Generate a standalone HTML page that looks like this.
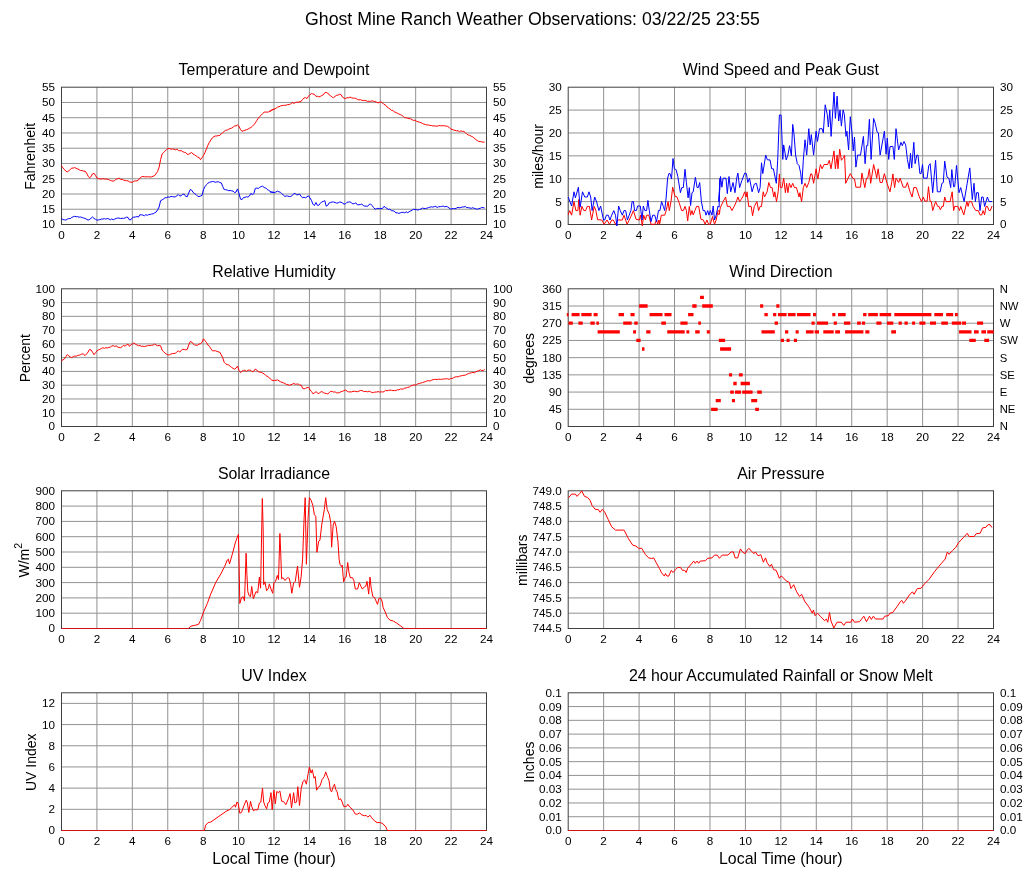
<!DOCTYPE html>
<html lang="en"><head><meta charset="utf-8"><title>Ghost Mine Ranch Weather Observations</title>
<style>html,body{margin:0;padding:0;background:#fff}svg{display:block}</style></head>
<body>
<svg width="1027" height="878" viewBox="0 0 1027 878" font-family='"Liberation Sans", Arial, Helvetica, sans-serif' fill="#000">
<rect width="1027" height="878" fill="#fff"/>
<text x="532.5" y="24.5" font-size="17.7" text-anchor="middle">Ghost Mine Ranch Weather Observations: 03/22/25 23:55</text>
<path d="M96.92 87.2V224.5M132.33 87.2V224.5M167.75 87.2V224.5M203.17 87.2V224.5M238.58 87.2V224.5M274.00 87.2V224.5M309.42 87.2V224.5M344.83 87.2V224.5M380.25 87.2V224.5M415.67 87.2V224.5M451.08 87.2V224.5M61.5 209.24H486.5M61.5 193.99H486.5M61.5 178.73H486.5M61.5 163.48H486.5M61.5 148.22H486.5M61.5 132.97H486.5M61.5 117.71H486.5M61.5 102.46H486.5" stroke="#929292" stroke-width="1" fill="none"/>
<path d="M603.64 87.2V224.5M639.08 87.2V224.5M674.53 87.2V224.5M709.97 87.2V224.5M745.41 87.2V224.5M780.85 87.2V224.5M816.29 87.2V224.5M851.73 87.2V224.5M887.17 87.2V224.5M922.62 87.2V224.5M958.06 87.2V224.5M568.2 201.62H993.5M568.2 178.73H993.5M568.2 155.85H993.5M568.2 132.97H993.5M568.2 110.08H993.5" stroke="#929292" stroke-width="1" fill="none"/>
<path d="M96.92 288.8V426.5M132.33 288.8V426.5M167.75 288.8V426.5M203.17 288.8V426.5M238.58 288.8V426.5M274.00 288.8V426.5M309.42 288.8V426.5M344.83 288.8V426.5M380.25 288.8V426.5M415.67 288.8V426.5M451.08 288.8V426.5M61.5 412.73H486.5M61.5 398.96H486.5M61.5 385.19H486.5M61.5 371.42H486.5M61.5 357.65H486.5M61.5 343.88H486.5M61.5 330.11H486.5M61.5 316.34H486.5M61.5 302.57H486.5" stroke="#929292" stroke-width="1" fill="none"/>
<path d="M603.64 288.8V426.5M639.08 288.8V426.5M674.53 288.8V426.5M709.97 288.8V426.5M745.41 288.8V426.5M780.85 288.8V426.5M816.29 288.8V426.5M851.73 288.8V426.5M887.17 288.8V426.5M922.62 288.8V426.5M958.06 288.8V426.5M568.2 409.29H993.5M568.2 392.07H993.5M568.2 374.86H993.5M568.2 357.65H993.5M568.2 340.44H993.5M568.2 323.23H993.5M568.2 306.01H993.5" stroke="#929292" stroke-width="1" fill="none"/>
<path d="M96.92 490.8V628.5M132.33 490.8V628.5M167.75 490.8V628.5M203.17 490.8V628.5M238.58 490.8V628.5M274.00 490.8V628.5M309.42 490.8V628.5M344.83 490.8V628.5M380.25 490.8V628.5M415.67 490.8V628.5M451.08 490.8V628.5M61.5 613.20H486.5M61.5 597.90H486.5M61.5 582.60H486.5M61.5 567.30H486.5M61.5 552.00H486.5M61.5 536.70H486.5M61.5 521.40H486.5M61.5 506.10H486.5" stroke="#929292" stroke-width="1" fill="none"/>
<path d="M603.64 490.8V628.5M639.08 490.8V628.5M674.53 490.8V628.5M709.97 490.8V628.5M745.41 490.8V628.5M780.85 490.8V628.5M816.29 490.8V628.5M851.73 490.8V628.5M887.17 490.8V628.5M922.62 490.8V628.5M958.06 490.8V628.5M568.2 613.20H993.5M568.2 597.90H993.5M568.2 582.60H993.5M568.2 567.30H993.5M568.2 552.00H993.5M568.2 536.70H993.5M568.2 521.40H993.5M568.2 506.10H993.5" stroke="#929292" stroke-width="1" fill="none"/>
<path d="M96.92 692.8V830.5M132.33 692.8V830.5M167.75 692.8V830.5M203.17 692.8V830.5M238.58 692.8V830.5M274.00 692.8V830.5M309.42 692.8V830.5M344.83 692.8V830.5M380.25 692.8V830.5M415.67 692.8V830.5M451.08 692.8V830.5M61.5 809.32H486.5M61.5 788.13H486.5M61.5 766.95H486.5M61.5 745.76H486.5M61.5 724.58H486.5M61.5 703.39H486.5" stroke="#929292" stroke-width="1" fill="none"/>
<path d="M603.64 692.8V830.5M639.08 692.8V830.5M674.53 692.8V830.5M709.97 692.8V830.5M745.41 692.8V830.5M780.85 692.8V830.5M816.29 692.8V830.5M851.73 692.8V830.5M887.17 692.8V830.5M922.62 692.8V830.5M958.06 692.8V830.5M568.2 816.73H993.5M568.2 802.96H993.5M568.2 789.19H993.5M568.2 775.42H993.5M568.2 761.65H993.5M568.2 747.88H993.5M568.2 734.11H993.5M568.2 720.34H993.5M568.2 706.57H993.5" stroke="#929292" stroke-width="1" fill="none"/>
<rect x="61.5" y="87.2" width="425.0" height="137.3" fill="none" stroke="#404040" stroke-width="1"/>
<text x="55.1" y="228.4" font-size="11.7" text-anchor="end">10</text>
<text x="493.0" y="228.4" font-size="11.7" text-anchor="start">10</text>
<text x="55.1" y="213.1" font-size="11.7" text-anchor="end">15</text>
<text x="493.0" y="213.1" font-size="11.7" text-anchor="start">15</text>
<text x="55.1" y="197.9" font-size="11.7" text-anchor="end">20</text>
<text x="493.0" y="197.9" font-size="11.7" text-anchor="start">20</text>
<text x="55.1" y="182.6" font-size="11.7" text-anchor="end">25</text>
<text x="493.0" y="182.6" font-size="11.7" text-anchor="start">25</text>
<text x="55.1" y="167.4" font-size="11.7" text-anchor="end">30</text>
<text x="493.0" y="167.4" font-size="11.7" text-anchor="start">30</text>
<text x="55.1" y="152.1" font-size="11.7" text-anchor="end">35</text>
<text x="493.0" y="152.1" font-size="11.7" text-anchor="start">35</text>
<text x="55.1" y="136.9" font-size="11.7" text-anchor="end">40</text>
<text x="493.0" y="136.9" font-size="11.7" text-anchor="start">40</text>
<text x="55.1" y="121.6" font-size="11.7" text-anchor="end">45</text>
<text x="493.0" y="121.6" font-size="11.7" text-anchor="start">45</text>
<text x="55.1" y="106.4" font-size="11.7" text-anchor="end">50</text>
<text x="493.0" y="106.4" font-size="11.7" text-anchor="start">50</text>
<text x="55.1" y="91.1" font-size="11.7" text-anchor="end">55</text>
<text x="493.0" y="91.1" font-size="11.7" text-anchor="start">55</text>
<text x="61.5" y="239.4" font-size="11.7" text-anchor="middle">0</text>
<text x="96.9" y="239.4" font-size="11.7" text-anchor="middle">2</text>
<text x="132.3" y="239.4" font-size="11.7" text-anchor="middle">4</text>
<text x="167.8" y="239.4" font-size="11.7" text-anchor="middle">6</text>
<text x="203.2" y="239.4" font-size="11.7" text-anchor="middle">8</text>
<text x="238.6" y="239.4" font-size="11.7" text-anchor="middle">10</text>
<text x="274.0" y="239.4" font-size="11.7" text-anchor="middle">12</text>
<text x="309.4" y="239.4" font-size="11.7" text-anchor="middle">14</text>
<text x="344.8" y="239.4" font-size="11.7" text-anchor="middle">16</text>
<text x="380.2" y="239.4" font-size="11.7" text-anchor="middle">18</text>
<text x="415.7" y="239.4" font-size="11.7" text-anchor="middle">20</text>
<text x="451.1" y="239.4" font-size="11.7" text-anchor="middle">22</text>
<text x="486.5" y="239.4" font-size="11.7" text-anchor="middle">24</text>
<text x="274.0" y="74.8" font-size="15.9" text-anchor="middle">Temperature and Dewpoint</text>
<rect x="568.2" y="87.2" width="425.29999999999995" height="137.3" fill="none" stroke="#404040" stroke-width="1"/>
<text x="561.8000000000001" y="228.4" font-size="11.7" text-anchor="end">0</text>
<text x="1000.0" y="228.4" font-size="11.7" text-anchor="start">0</text>
<text x="561.8000000000001" y="205.5" font-size="11.7" text-anchor="end">5</text>
<text x="1000.0" y="205.5" font-size="11.7" text-anchor="start">5</text>
<text x="561.8000000000001" y="182.6" font-size="11.7" text-anchor="end">10</text>
<text x="1000.0" y="182.6" font-size="11.7" text-anchor="start">10</text>
<text x="561.8000000000001" y="159.8" font-size="11.7" text-anchor="end">15</text>
<text x="1000.0" y="159.8" font-size="11.7" text-anchor="start">15</text>
<text x="561.8000000000001" y="136.9" font-size="11.7" text-anchor="end">20</text>
<text x="1000.0" y="136.9" font-size="11.7" text-anchor="start">20</text>
<text x="561.8000000000001" y="114.0" font-size="11.7" text-anchor="end">25</text>
<text x="1000.0" y="114.0" font-size="11.7" text-anchor="start">25</text>
<text x="561.8000000000001" y="91.1" font-size="11.7" text-anchor="end">30</text>
<text x="1000.0" y="91.1" font-size="11.7" text-anchor="start">30</text>
<text x="568.2" y="239.4" font-size="11.7" text-anchor="middle">0</text>
<text x="603.6" y="239.4" font-size="11.7" text-anchor="middle">2</text>
<text x="639.1" y="239.4" font-size="11.7" text-anchor="middle">4</text>
<text x="674.5" y="239.4" font-size="11.7" text-anchor="middle">6</text>
<text x="710.0" y="239.4" font-size="11.7" text-anchor="middle">8</text>
<text x="745.4" y="239.4" font-size="11.7" text-anchor="middle">10</text>
<text x="780.9" y="239.4" font-size="11.7" text-anchor="middle">12</text>
<text x="816.3" y="239.4" font-size="11.7" text-anchor="middle">14</text>
<text x="851.7" y="239.4" font-size="11.7" text-anchor="middle">16</text>
<text x="887.2" y="239.4" font-size="11.7" text-anchor="middle">18</text>
<text x="922.6" y="239.4" font-size="11.7" text-anchor="middle">20</text>
<text x="958.1" y="239.4" font-size="11.7" text-anchor="middle">22</text>
<text x="993.5" y="239.4" font-size="11.7" text-anchor="middle">24</text>
<text x="780.85" y="74.8" font-size="15.9" text-anchor="middle">Wind Speed and Peak Gust</text>
<rect x="61.5" y="288.8" width="425.0" height="137.7" fill="none" stroke="#404040" stroke-width="1"/>
<text x="55.1" y="430.4" font-size="11.7" text-anchor="end">0</text>
<text x="493.0" y="430.4" font-size="11.7" text-anchor="start">0</text>
<text x="55.1" y="416.6" font-size="11.7" text-anchor="end">10</text>
<text x="493.0" y="416.6" font-size="11.7" text-anchor="start">10</text>
<text x="55.1" y="402.9" font-size="11.7" text-anchor="end">20</text>
<text x="493.0" y="402.9" font-size="11.7" text-anchor="start">20</text>
<text x="55.1" y="389.1" font-size="11.7" text-anchor="end">30</text>
<text x="493.0" y="389.1" font-size="11.7" text-anchor="start">30</text>
<text x="55.1" y="375.3" font-size="11.7" text-anchor="end">40</text>
<text x="493.0" y="375.3" font-size="11.7" text-anchor="start">40</text>
<text x="55.1" y="361.5" font-size="11.7" text-anchor="end">50</text>
<text x="493.0" y="361.5" font-size="11.7" text-anchor="start">50</text>
<text x="55.1" y="347.8" font-size="11.7" text-anchor="end">60</text>
<text x="493.0" y="347.8" font-size="11.7" text-anchor="start">60</text>
<text x="55.1" y="334.0" font-size="11.7" text-anchor="end">70</text>
<text x="493.0" y="334.0" font-size="11.7" text-anchor="start">70</text>
<text x="55.1" y="320.2" font-size="11.7" text-anchor="end">80</text>
<text x="493.0" y="320.2" font-size="11.7" text-anchor="start">80</text>
<text x="55.1" y="306.5" font-size="11.7" text-anchor="end">90</text>
<text x="493.0" y="306.5" font-size="11.7" text-anchor="start">90</text>
<text x="55.1" y="292.7" font-size="11.7" text-anchor="end">100</text>
<text x="493.0" y="292.7" font-size="11.7" text-anchor="start">100</text>
<text x="61.5" y="441.4" font-size="11.7" text-anchor="middle">0</text>
<text x="96.9" y="441.4" font-size="11.7" text-anchor="middle">2</text>
<text x="132.3" y="441.4" font-size="11.7" text-anchor="middle">4</text>
<text x="167.8" y="441.4" font-size="11.7" text-anchor="middle">6</text>
<text x="203.2" y="441.4" font-size="11.7" text-anchor="middle">8</text>
<text x="238.6" y="441.4" font-size="11.7" text-anchor="middle">10</text>
<text x="274.0" y="441.4" font-size="11.7" text-anchor="middle">12</text>
<text x="309.4" y="441.4" font-size="11.7" text-anchor="middle">14</text>
<text x="344.8" y="441.4" font-size="11.7" text-anchor="middle">16</text>
<text x="380.2" y="441.4" font-size="11.7" text-anchor="middle">18</text>
<text x="415.7" y="441.4" font-size="11.7" text-anchor="middle">20</text>
<text x="451.1" y="441.4" font-size="11.7" text-anchor="middle">22</text>
<text x="486.5" y="441.4" font-size="11.7" text-anchor="middle">24</text>
<text x="274.0" y="277.2" font-size="15.9" text-anchor="middle">Relative Humidity</text>
<rect x="568.2" y="288.8" width="425.29999999999995" height="137.7" fill="none" stroke="#404040" stroke-width="1"/>
<text x="561.8000000000001" y="430.4" font-size="11.7" text-anchor="end">0</text>
<text x="561.8000000000001" y="413.2" font-size="11.7" text-anchor="end">45</text>
<text x="561.8000000000001" y="396.0" font-size="11.7" text-anchor="end">90</text>
<text x="561.8000000000001" y="378.8" font-size="11.7" text-anchor="end">135</text>
<text x="561.8000000000001" y="361.5" font-size="11.7" text-anchor="end">180</text>
<text x="561.8000000000001" y="344.3" font-size="11.7" text-anchor="end">225</text>
<text x="561.8000000000001" y="327.1" font-size="11.7" text-anchor="end">270</text>
<text x="561.8000000000001" y="309.9" font-size="11.7" text-anchor="end">315</text>
<text x="561.8000000000001" y="292.7" font-size="11.7" text-anchor="end">360</text>
<text x="999.7" y="430.4" font-size="11.3" text-anchor="start">N</text>
<text x="999.7" y="413.2" font-size="11.3" text-anchor="start">NE</text>
<text x="999.7" y="396.0" font-size="11.3" text-anchor="start">E</text>
<text x="999.7" y="378.8" font-size="11.3" text-anchor="start">SE</text>
<text x="999.7" y="361.5" font-size="11.3" text-anchor="start">S</text>
<text x="999.7" y="344.3" font-size="11.3" text-anchor="start">SW</text>
<text x="999.7" y="327.1" font-size="11.3" text-anchor="start">W</text>
<text x="999.7" y="309.9" font-size="11.3" text-anchor="start">NW</text>
<text x="999.7" y="292.7" font-size="11.3" text-anchor="start">N</text>
<text x="568.2" y="441.4" font-size="11.7" text-anchor="middle">0</text>
<text x="603.6" y="441.4" font-size="11.7" text-anchor="middle">2</text>
<text x="639.1" y="441.4" font-size="11.7" text-anchor="middle">4</text>
<text x="674.5" y="441.4" font-size="11.7" text-anchor="middle">6</text>
<text x="710.0" y="441.4" font-size="11.7" text-anchor="middle">8</text>
<text x="745.4" y="441.4" font-size="11.7" text-anchor="middle">10</text>
<text x="780.9" y="441.4" font-size="11.7" text-anchor="middle">12</text>
<text x="816.3" y="441.4" font-size="11.7" text-anchor="middle">14</text>
<text x="851.7" y="441.4" font-size="11.7" text-anchor="middle">16</text>
<text x="887.2" y="441.4" font-size="11.7" text-anchor="middle">18</text>
<text x="922.6" y="441.4" font-size="11.7" text-anchor="middle">20</text>
<text x="958.1" y="441.4" font-size="11.7" text-anchor="middle">22</text>
<text x="993.5" y="441.4" font-size="11.7" text-anchor="middle">24</text>
<text x="780.85" y="277.2" font-size="15.9" text-anchor="middle">Wind Direction</text>
<rect x="61.5" y="490.8" width="425.0" height="137.7" fill="none" stroke="#404040" stroke-width="1"/>
<text x="55.1" y="632.4" font-size="11.7" text-anchor="end">0</text>
<text x="55.1" y="617.1" font-size="11.7" text-anchor="end">100</text>
<text x="55.1" y="601.8" font-size="11.7" text-anchor="end">200</text>
<text x="55.1" y="586.5" font-size="11.7" text-anchor="end">300</text>
<text x="55.1" y="571.2" font-size="11.7" text-anchor="end">400</text>
<text x="55.1" y="555.9" font-size="11.7" text-anchor="end">500</text>
<text x="55.1" y="540.6" font-size="11.7" text-anchor="end">600</text>
<text x="55.1" y="525.3" font-size="11.7" text-anchor="end">700</text>
<text x="55.1" y="510.0" font-size="11.7" text-anchor="end">800</text>
<text x="55.1" y="494.7" font-size="11.7" text-anchor="end">900</text>
<text x="61.5" y="643.4" font-size="11.7" text-anchor="middle">0</text>
<text x="96.9" y="643.4" font-size="11.7" text-anchor="middle">2</text>
<text x="132.3" y="643.4" font-size="11.7" text-anchor="middle">4</text>
<text x="167.8" y="643.4" font-size="11.7" text-anchor="middle">6</text>
<text x="203.2" y="643.4" font-size="11.7" text-anchor="middle">8</text>
<text x="238.6" y="643.4" font-size="11.7" text-anchor="middle">10</text>
<text x="274.0" y="643.4" font-size="11.7" text-anchor="middle">12</text>
<text x="309.4" y="643.4" font-size="11.7" text-anchor="middle">14</text>
<text x="344.8" y="643.4" font-size="11.7" text-anchor="middle">16</text>
<text x="380.2" y="643.4" font-size="11.7" text-anchor="middle">18</text>
<text x="415.7" y="643.4" font-size="11.7" text-anchor="middle">20</text>
<text x="451.1" y="643.4" font-size="11.7" text-anchor="middle">22</text>
<text x="486.5" y="643.4" font-size="11.7" text-anchor="middle">24</text>
<text x="274.0" y="479.2" font-size="15.9" text-anchor="middle">Solar Irradiance</text>
<rect x="568.2" y="490.8" width="425.29999999999995" height="137.7" fill="none" stroke="#404040" stroke-width="1"/>
<text x="561.8000000000001" y="632.4" font-size="11.7" text-anchor="end">744.5</text>
<text x="561.8000000000001" y="617.1" font-size="11.7" text-anchor="end">745.0</text>
<text x="561.8000000000001" y="601.8" font-size="11.7" text-anchor="end">745.5</text>
<text x="561.8000000000001" y="586.5" font-size="11.7" text-anchor="end">746.0</text>
<text x="561.8000000000001" y="571.2" font-size="11.7" text-anchor="end">746.5</text>
<text x="561.8000000000001" y="555.9" font-size="11.7" text-anchor="end">747.0</text>
<text x="561.8000000000001" y="540.6" font-size="11.7" text-anchor="end">747.5</text>
<text x="561.8000000000001" y="525.3" font-size="11.7" text-anchor="end">748.0</text>
<text x="561.8000000000001" y="510.0" font-size="11.7" text-anchor="end">748.5</text>
<text x="561.8000000000001" y="494.7" font-size="11.7" text-anchor="end">749.0</text>
<text x="568.2" y="643.4" font-size="11.7" text-anchor="middle">0</text>
<text x="603.6" y="643.4" font-size="11.7" text-anchor="middle">2</text>
<text x="639.1" y="643.4" font-size="11.7" text-anchor="middle">4</text>
<text x="674.5" y="643.4" font-size="11.7" text-anchor="middle">6</text>
<text x="710.0" y="643.4" font-size="11.7" text-anchor="middle">8</text>
<text x="745.4" y="643.4" font-size="11.7" text-anchor="middle">10</text>
<text x="780.9" y="643.4" font-size="11.7" text-anchor="middle">12</text>
<text x="816.3" y="643.4" font-size="11.7" text-anchor="middle">14</text>
<text x="851.7" y="643.4" font-size="11.7" text-anchor="middle">16</text>
<text x="887.2" y="643.4" font-size="11.7" text-anchor="middle">18</text>
<text x="922.6" y="643.4" font-size="11.7" text-anchor="middle">20</text>
<text x="958.1" y="643.4" font-size="11.7" text-anchor="middle">22</text>
<text x="993.5" y="643.4" font-size="11.7" text-anchor="middle">24</text>
<text x="780.85" y="479.2" font-size="15.9" text-anchor="middle">Air Pressure</text>
<rect x="61.5" y="692.8" width="425.0" height="137.70000000000005" fill="none" stroke="#404040" stroke-width="1"/>
<text x="55.1" y="834.4" font-size="11.7" text-anchor="end">0</text>
<text x="55.1" y="813.2" font-size="11.7" text-anchor="end">2</text>
<text x="55.1" y="792.0" font-size="11.7" text-anchor="end">4</text>
<text x="55.1" y="770.8" font-size="11.7" text-anchor="end">6</text>
<text x="55.1" y="749.7" font-size="11.7" text-anchor="end">8</text>
<text x="55.1" y="728.5" font-size="11.7" text-anchor="end">10</text>
<text x="55.1" y="707.3" font-size="11.7" text-anchor="end">12</text>
<text x="61.5" y="845.4" font-size="11.7" text-anchor="middle">0</text>
<text x="96.9" y="845.4" font-size="11.7" text-anchor="middle">2</text>
<text x="132.3" y="845.4" font-size="11.7" text-anchor="middle">4</text>
<text x="167.8" y="845.4" font-size="11.7" text-anchor="middle">6</text>
<text x="203.2" y="845.4" font-size="11.7" text-anchor="middle">8</text>
<text x="238.6" y="845.4" font-size="11.7" text-anchor="middle">10</text>
<text x="274.0" y="845.4" font-size="11.7" text-anchor="middle">12</text>
<text x="309.4" y="845.4" font-size="11.7" text-anchor="middle">14</text>
<text x="344.8" y="845.4" font-size="11.7" text-anchor="middle">16</text>
<text x="380.2" y="845.4" font-size="11.7" text-anchor="middle">18</text>
<text x="415.7" y="845.4" font-size="11.7" text-anchor="middle">20</text>
<text x="451.1" y="845.4" font-size="11.7" text-anchor="middle">22</text>
<text x="486.5" y="845.4" font-size="11.7" text-anchor="middle">24</text>
<text x="274.0" y="681.4" font-size="15.9" text-anchor="middle">UV Index</text>
<text x="274.0" y="864.0" font-size="15.9" text-anchor="middle">Local Time (hour)</text>
<rect x="568.2" y="692.8" width="425.29999999999995" height="137.70000000000005" fill="none" stroke="#404040" stroke-width="1"/>
<text x="561.8000000000001" y="834.4" font-size="11.7" text-anchor="end">0.0</text>
<text x="1000.0" y="834.4" font-size="11.7" text-anchor="start">0.0</text>
<text x="561.8000000000001" y="820.6" font-size="11.7" text-anchor="end">0.01</text>
<text x="1000.0" y="820.6" font-size="11.7" text-anchor="start">0.01</text>
<text x="561.8000000000001" y="806.9" font-size="11.7" text-anchor="end">0.02</text>
<text x="1000.0" y="806.9" font-size="11.7" text-anchor="start">0.02</text>
<text x="561.8000000000001" y="793.1" font-size="11.7" text-anchor="end">0.03</text>
<text x="1000.0" y="793.1" font-size="11.7" text-anchor="start">0.03</text>
<text x="561.8000000000001" y="779.3" font-size="11.7" text-anchor="end">0.04</text>
<text x="1000.0" y="779.3" font-size="11.7" text-anchor="start">0.04</text>
<text x="561.8000000000001" y="765.5" font-size="11.7" text-anchor="end">0.05</text>
<text x="1000.0" y="765.5" font-size="11.7" text-anchor="start">0.05</text>
<text x="561.8000000000001" y="751.8" font-size="11.7" text-anchor="end">0.06</text>
<text x="1000.0" y="751.8" font-size="11.7" text-anchor="start">0.06</text>
<text x="561.8000000000001" y="738.0" font-size="11.7" text-anchor="end">0.07</text>
<text x="1000.0" y="738.0" font-size="11.7" text-anchor="start">0.07</text>
<text x="561.8000000000001" y="724.2" font-size="11.7" text-anchor="end">0.08</text>
<text x="1000.0" y="724.2" font-size="11.7" text-anchor="start">0.08</text>
<text x="561.8000000000001" y="710.5" font-size="11.7" text-anchor="end">0.09</text>
<text x="1000.0" y="710.5" font-size="11.7" text-anchor="start">0.09</text>
<text x="561.8000000000001" y="696.7" font-size="11.7" text-anchor="end">0.1</text>
<text x="1000.0" y="696.7" font-size="11.7" text-anchor="start">0.1</text>
<text x="568.2" y="845.4" font-size="11.7" text-anchor="middle">0</text>
<text x="603.6" y="845.4" font-size="11.7" text-anchor="middle">2</text>
<text x="639.1" y="845.4" font-size="11.7" text-anchor="middle">4</text>
<text x="674.5" y="845.4" font-size="11.7" text-anchor="middle">6</text>
<text x="710.0" y="845.4" font-size="11.7" text-anchor="middle">8</text>
<text x="745.4" y="845.4" font-size="11.7" text-anchor="middle">10</text>
<text x="780.9" y="845.4" font-size="11.7" text-anchor="middle">12</text>
<text x="816.3" y="845.4" font-size="11.7" text-anchor="middle">14</text>
<text x="851.7" y="845.4" font-size="11.7" text-anchor="middle">16</text>
<text x="887.2" y="845.4" font-size="11.7" text-anchor="middle">18</text>
<text x="922.6" y="845.4" font-size="11.7" text-anchor="middle">20</text>
<text x="958.1" y="845.4" font-size="11.7" text-anchor="middle">22</text>
<text x="993.5" y="845.4" font-size="11.7" text-anchor="middle">24</text>
<text x="780.85" y="681.4" font-size="15.9" text-anchor="middle">24 hour Accumulated Rainfall or Snow Melt</text>
<text x="780.85" y="864.0" font-size="15.9" text-anchor="middle">Local Time (hour)</text>
<text x="35.5" y="156.4" font-size="14" text-anchor="middle" transform="rotate(-90 35.5 156.4)">Fahrenheit</text>
<text x="542.6999999999999" y="156.4" font-size="14" text-anchor="middle" transform="rotate(-90 542.6999999999999 156.4)">miles/hour</text>
<text x="30.2" y="358.2" font-size="14" text-anchor="middle" transform="rotate(-90 30.2 358.2)">Percent</text>
<text x="533.8" y="358.2" font-size="14" text-anchor="middle" transform="rotate(-90 533.8 358.2)">degrees</text>
<text x="29.5" y="560.2" font-size="14" text-anchor="middle" transform="rotate(-90 29.5 560.2)">W/m<tspan font-size="10.5" dy="-7.7">2</tspan></text>
<text x="526.8" y="560.2" font-size="14" text-anchor="middle" transform="rotate(-90 526.8 560.2)">millibars</text>
<text x="36.5" y="762.2" font-size="14" text-anchor="middle" transform="rotate(-90 36.5 762.2)">UV Index</text>
<text x="533.8" y="762.2" font-size="14" text-anchor="middle" transform="rotate(-90 533.8 762.2)">Inches</text>
<path d="M61.4 165.7L62.9 167.8L64.4 169.4L65.9 171.2L67.3 171.9L68.8 170.9L70.3 169.3L71.8 168.1L73.3 168.1L74.7 167.5L76.2 168.4L77.7 168.8L79.2 169.8L80.7 170.5L82.1 170.6L83.6 171.2L85.1 171.1L86.6 173.1L88.1 176.2L89.5 177.8L91.0 176.7L92.5 173.9L94.0 173.2L95.5 175.4L96.9 178.0L98.4 178.6L99.9 178.9L101.4 179.0L102.9 178.6L104.3 179.1L105.8 179.0L107.3 179.2L108.8 179.6L110.3 180.5L111.7 180.8L113.2 181.2L114.7 180.5L116.2 179.2L117.7 178.6L119.1 178.1L120.6 179.4L122.1 179.3L123.6 180.1L125.1 180.6L126.5 180.7L128.0 180.8L129.5 182.0L131.0 182.1L132.5 182.3L133.9 181.1L135.4 180.9L136.9 180.9L138.4 180.1L139.9 178.1L141.3 177.0L142.8 176.4L144.3 176.8L145.8 176.7L147.3 176.9L148.7 176.7L150.2 177.0L151.7 176.9L153.2 176.2L154.7 175.6L156.1 173.7L157.6 171.5L159.1 167.2L160.6 159.7L162.1 154.0L163.5 152.7L165.0 151.1L166.5 149.6L168.0 148.6L169.5 148.6L170.9 149.2L172.4 149.0L173.9 149.2L175.4 149.8L176.9 149.1L178.3 150.4L179.8 150.8L181.3 150.7L182.8 151.7L184.3 152.3L185.7 152.6L187.2 154.3L188.7 154.3L190.2 153.3L191.7 152.5L193.1 154.1L194.6 154.8L196.1 155.8L197.6 157.1L199.1 157.5L200.5 159.7L202.0 157.7L203.5 155.5L205.0 152.4L206.5 148.7L207.9 145.2L209.4 142.3L210.9 139.9L212.4 137.8L213.9 136.6L215.3 136.0L216.8 136.0L218.3 135.5L219.8 135.5L221.3 133.7L222.7 132.8L224.2 131.4L225.7 130.3L227.2 130.1L228.7 129.2L230.1 128.6L231.6 128.1L233.1 127.3L234.6 125.8L236.1 126.0L237.5 125.0L239.0 126.2L240.5 129.6L242.0 131.3L243.5 130.7L244.9 130.3L246.4 129.7L247.9 129.2L249.4 128.2L250.9 127.6L252.3 126.3L253.8 124.8L255.3 122.9L256.8 120.5L258.3 118.2L259.7 116.5L261.2 115.2L262.7 113.5L264.2 112.2L265.7 112.0L267.1 112.2L268.6 111.9L270.1 111.0L271.6 110.0L273.1 109.4L274.5 109.1" stroke="#ff0000" stroke-width="1.0" fill="none" stroke-linejoin="round"/>
<path d="M270.0 111.8L271.5 110.1L273.0 109.7L274.4 108.9L275.9 108.5L277.4 107.1L278.9 106.8L280.4 106.0L281.8 105.6L283.3 105.4L284.8 105.3L286.3 105.1L287.8 104.6L289.2 104.6L290.7 103.8L292.2 102.5L293.7 103.5L295.2 102.6L296.6 102.2L298.1 102.2L299.6 101.8L301.1 101.4L302.6 99.4L304.0 98.1L305.5 97.5L307.0 98.6L308.5 96.3L310.0 94.5L311.4 93.6L312.9 93.9L314.4 94.4L315.9 96.3L317.4 96.3L318.8 96.9L320.3 96.4L321.8 95.5L323.3 94.8L324.8 92.7L326.2 92.5L327.7 93.0L329.2 94.9L330.7 95.8L332.2 97.2L333.6 97.7L335.1 96.3L336.6 95.3L338.1 95.1L339.6 94.3L341.0 94.6L342.5 97.1L344.0 98.1L345.5 98.6L347.0 97.6L348.4 97.9L349.9 97.1L351.4 97.7L352.9 98.1L354.4 98.2L355.8 98.4L357.3 99.4L358.8 99.9L360.3 99.7L361.8 100.2L363.2 100.6L364.7 100.4L366.2 100.7L367.7 101.4L369.2 101.2L370.6 101.4L372.1 100.8L373.6 101.3L375.1 101.5L376.6 102.3L378.0 102.9L379.5 102.3L381.0 101.8L382.5 102.9L384.0 104.5L385.4 104.9L386.9 106.8L388.4 107.9L389.9 108.9L391.4 110.3L392.8 110.5L394.3 111.9L395.8 112.4L397.3 113.2L398.8 113.9L400.2 114.6L401.7 115.2L403.2 116.3L404.7 117.6L406.2 117.8L407.6 118.2L409.1 118.6L410.6 118.8L412.1 119.6L413.6 120.6L415.0 120.0L416.5 121.2L418.0 121.8L419.5 122.1L421.0 122.7L422.4 123.4L423.9 124.2L425.4 124.4L426.9 125.0L428.4 124.9L429.8 125.4L431.3 125.5L432.8 125.9L434.3 125.9L435.8 126.1L437.2 126.2L438.7 125.6L440.2 125.7L441.7 125.8L443.2 125.6L444.6 125.9L446.1 126.0L447.6 126.4L449.1 127.3L450.6 128.8L452.0 129.4L453.5 130.0L455.0 130.3L456.5 130.8L458.0 130.7L459.4 131.8L460.9 130.9L462.4 131.3L463.9 131.4L465.4 132.7L466.8 134.1L468.3 135.0L469.8 135.3L471.3 136.3L472.8 136.9L474.2 138.2L475.7 139.4L477.2 140.6L478.7 141.4L480.2 141.5L481.6 141.8L483.1 142.2L484.6 142.0" stroke="#ff0000" stroke-width="1.0" fill="none" stroke-linejoin="round"/>
<path d="M61.4 218.2L62.9 219.6L64.4 219.8L65.9 220.1L67.3 219.1L68.8 218.6L70.3 218.6L71.8 217.4L73.3 216.7L74.7 216.3L76.2 216.7L77.7 216.7L79.2 217.2L80.7 217.0L82.1 217.6L83.6 218.0L85.1 218.5L86.6 219.3L88.1 220.1L89.5 219.5L91.0 218.3L92.5 217.0L94.0 218.4L95.5 219.3L96.9 220.1L98.4 219.9L99.9 219.7L101.4 219.0L102.9 219.1L104.3 218.6L105.8 219.1L107.3 218.5L108.8 218.9L110.3 219.8L111.7 218.9L113.2 219.8L114.7 219.1L116.2 218.4L117.7 218.1L119.1 218.1L120.6 218.5L122.1 218.3L123.6 218.4L125.1 217.9L126.5 217.2L128.0 217.4L129.5 220.0L131.0 219.6L132.5 217.5L133.9 217.1L135.4 217.0L136.9 216.5L138.4 217.1L139.9 214.7L141.3 214.9L142.8 215.0L144.3 215.8L145.8 214.6L147.3 215.4L148.7 214.5L150.2 214.5L151.7 213.9L153.2 213.8L154.7 212.8L156.1 212.1L157.6 209.9L159.1 207.0L160.6 200.7L162.1 199.9L163.5 199.0L165.0 197.8L166.5 197.6L168.0 196.9L169.5 197.2L170.9 196.4L172.4 196.6L173.9 196.9L175.4 196.8L176.9 195.8L178.3 194.5L179.8 196.0L181.3 195.7L182.8 194.1L184.3 194.3L185.7 196.4L187.2 196.8L188.7 193.1L190.2 189.5L191.7 190.2L193.1 192.4L194.6 193.6L196.1 194.5L197.6 196.2L199.1 196.6L200.5 196.0L202.0 195.4L203.5 189.7L205.0 186.6L206.5 184.6L207.9 183.2L209.4 182.3L210.9 181.9L212.4 181.6L213.9 181.6L215.3 182.3L216.8 181.9L218.3 181.7L219.8 182.5L221.3 182.9L222.7 186.4L224.2 189.6L225.7 189.7L227.2 190.1L228.7 190.7L230.1 190.5L231.6 190.8L233.1 191.1L234.6 192.6L236.1 192.0L237.5 188.9L239.0 193.4L240.5 199.1L242.0 199.6L243.5 197.6L244.9 197.4L246.4 196.7L247.9 197.1L249.4 196.0L250.9 193.4L252.3 194.5L253.8 193.7L255.3 188.4L256.8 188.0L258.3 188.5L259.7 187.3L261.2 186.6L262.7 186.2L264.2 187.6L265.7 187.9L267.1 189.4L268.6 190.3L270.1 191.4L271.6 192.0L273.1 192.4L274.5 192.8" stroke="#0000ff" stroke-width="1.0" fill="none" stroke-linejoin="round"/>
<path d="M270.0 192.0L271.5 192.3L273.0 192.2L274.4 192.5L275.9 192.0L277.4 191.2L278.9 191.8L280.4 192.2L281.8 193.6L283.3 195.1L284.8 196.4L286.3 196.0L287.8 196.0L289.2 196.5L290.7 196.5L292.2 195.6L293.7 193.7L295.2 193.4L296.6 195.0L298.1 194.5L299.6 194.1L301.1 196.4L302.6 197.7L304.0 197.2L305.5 197.8L307.0 196.8L308.5 195.8L310.0 198.0L311.4 200.3L312.9 204.1L314.4 205.6L315.9 202.5L317.4 205.3L318.8 205.3L320.3 203.3L321.8 201.8L323.3 201.5L324.8 200.6L326.2 206.2L327.7 205.4L329.2 202.8L330.7 202.4L332.2 202.0L333.6 202.0L335.1 202.5L336.6 203.1L338.1 202.9L339.6 202.0L341.0 202.2L342.5 203.2L344.0 204.1L345.5 203.8L347.0 202.3L348.4 202.1L349.9 201.8L351.4 202.8L352.9 203.9L354.4 203.5L355.8 202.8L357.3 204.8L358.8 204.8L360.3 204.5L361.8 204.0L363.2 205.6L364.7 206.1L366.2 206.1L367.7 206.3L369.2 204.4L370.6 204.0L372.1 205.5L373.6 207.6L375.1 209.2L376.6 208.6L378.0 208.3L379.5 208.6L381.0 208.6L382.5 208.4L384.0 206.3L385.4 207.4L386.9 208.4L388.4 209.4L389.9 209.2L391.4 210.6L392.8 210.8L394.3 211.1L395.8 212.9L397.3 212.8L398.8 213.4L400.2 212.9L401.7 212.4L403.2 212.3L404.7 212.8L406.2 211.9L407.6 212.7L409.1 211.8L410.6 211.0L412.1 210.2L413.6 209.2L415.0 209.6L416.5 209.6L418.0 210.1L419.5 209.5L421.0 209.0L422.4 208.1L423.9 208.4L425.4 208.6L426.9 208.2L428.4 207.6L429.8 207.2L431.3 206.8L432.8 207.1L434.3 206.6L435.8 206.4L437.2 207.5L438.7 206.7L440.2 206.7L441.7 206.4L443.2 206.1L444.6 206.8L446.1 206.4L447.6 206.9L449.1 208.1L450.6 209.0L452.0 208.8L453.5 208.5L455.0 208.8L456.5 208.1L458.0 207.4L459.4 207.8L460.9 207.4L462.4 207.0L463.9 206.9L465.4 206.6L466.8 207.7L468.3 207.6L469.8 208.0L471.3 208.3L472.8 207.7L474.2 208.4L475.7 208.5L477.2 209.4L478.7 208.5L480.2 208.4L481.6 207.4L483.1 207.7L484.6 207.9" stroke="#0000ff" stroke-width="1.0" fill="none" stroke-linejoin="round"/>
<path d="M568.2 214.9L569.7 210.6L571.6 215.2L574.0 201.6L575.9 210.6L577.9 210.6L578.8 199.5L580.1 215.2L581.9 206.4L583.9 210.6L585.6 210.6L587.3 206.4L589.4 206.4L591.6 220.0L594.2 206.4L595.9 210.6L597.6 219.7L601.8 220.0L604.1 224.3L607.0 220.0L609.5 224.3L611.7 220.0L613.3 220.0L615.5 224.3L617.7 220.0L622.3 220.0L624.0 215.2L627.1 224.3L629.2 220.0L630.9 216.6L633.4 210.6L636.0 219.2L639.4 220.0L640.6 215.2L642.3 226.0L643.7 215.2L645.4 220.0L646.6 215.2L648.8 215.2L651.0 224.3L654.8 224.3L656.5 220.0L657.7 224.3L659.0 220.0L659.6 224.3L661.3 215.2L664.7 215.2L666.2 210.6L668.1 201.6L669.3 210.6L671.0 201.6L672.7 187.2L674.9 196.1L677.0 197.0L679.5 203.8L681.6 210.6L683.3 210.6L685.0 206.4L686.4 210.6L687.7 220.9L689.3 206.4L690.6 215.2L692.0 210.6L693.2 214.9L694.9 210.6L696.6 206.4L698.7 206.4L700.9 219.2L703.4 220.0L705.1 224.3L706.9 220.0L708.6 224.3L710.3 224.3L712.5 216.6L714.5 224.3L716.2 220.0L718.0 210.6L720.0 211.5L718.8 214.9L720.5 207.2L723.1 201.6L725.6 197.0L727.3 206.4L729.9 206.4L731.9 210.6L734.2 206.4L736.4 201.6L737.9 197.0L739.6 201.6L741.0 199.5L742.7 197.0L744.7 191.8L746.1 197.0L747.0 191.8L748.7 206.4L751.2 206.4L752.6 215.8L754.3 206.4L756.9 201.6L758.6 210.6L760.1 206.4L761.5 206.4L763.2 191.8L764.5 197.0L767.1 191.8L768.8 182.5L770.5 187.6L772.1 187.6L773.8 197.0L774.8 191.8L776.5 201.6L778.2 191.8L779.4 173.9L780.3 187.6L782.0 187.6L783.7 178.2L785.4 192.7L786.6 183.3L787.9 192.7L789.3 183.3L791.0 187.6L792.7 183.3L794.4 187.6L796.5 187.6L799.0 197.0L799.9 192.7L801.6 201.6L803.3 187.6L805.0 183.3L806.7 187.6L808.8 182.5L810.7 173.9L811.8 173.9L813.6 183.3L816.1 168.8L817.8 179.0L820.4 164.5L822.1 168.8L824.1 164.5L827.7 164.5L829.3 160.3L831.0 168.8L834.0 150.9L835.4 168.8L837.1 155.1L838.0 168.8L839.7 149.2L841.4 160.3L843.4 157.7L844.6 155.1L845.7 183.3L847.7 179.0L850.3 173.6L852.8 178.2L854.5 179.0L855.9 187.2L860.0 187.2L860.0 187.2L860.5 187.2L861.9 173.1L864.8 187.6L866.5 178.2L867.7 178.2L869.4 168.8L870.7 183.3L873.6 164.5L875.9 173.9L876.7 178.2L878.1 168.8L880.1 182.5L882.2 182.5L884.4 173.6L887.0 183.3L890.0 191.8L891.7 182.5L892.9 173.9L894.6 187.6L896.0 178.2L898.6 182.5L900.1 178.2L903.2 187.2L905.7 187.2L907.4 182.5L910.0 191.8L912.1 197.0L913.8 187.6L916.3 187.6L919.4 197.0L921.5 201.6L923.3 197.0L924.9 201.2L927.1 201.2L928.5 186.7L930.0 201.2L931.4 201.6L932.7 210.6L935.6 201.6L937.7 206.4L939.0 206.4L940.4 209.8L941.9 206.4L943.3 206.4L944.7 197.0L946.2 201.6L950.1 201.6L952.2 191.8L953.6 210.6L954.7 206.4L957.8 206.4L959.5 210.6L960.7 206.4L963.8 214.9L966.9 201.6L968.1 206.4L969.3 201.6L971.5 201.6L973.2 206.4L975.8 210.6L978.3 210.6L980.0 214.9L981.7 214.9L983.1 210.6L984.6 214.9L986.0 206.4L987.4 206.4L989.1 210.6L990.3 210.6L992.0 206.0" stroke="#ff0000" stroke-width="1.0" fill="none" stroke-linejoin="round"/>
<path d="M568.2 197.0L571.6 206.0L574.0 191.8L575.4 197.8L578.4 187.2L580.1 207.2L582.5 191.8L584.8 197.0L587.3 197.0L589.0 191.8L590.7 197.0L592.1 210.6L594.7 197.0L596.7 202.1L598.9 210.6L600.6 206.0L603.5 220.0L604.7 220.0L606.4 215.2L608.3 215.2L609.9 220.0L611.7 215.2L613.8 210.6L615.5 215.2L616.9 226.0L618.6 206.0L620.3 210.6L622.3 215.2L624.0 210.6L625.7 210.6L627.4 220.0L629.2 215.2L630.9 210.6L632.1 201.6L633.4 201.6L634.6 210.6L636.3 210.6L637.7 206.0L640.3 206.0L642.0 220.0L643.3 206.0L644.9 210.6L646.6 210.6L647.9 200.4L649.3 210.6L651.0 221.7L652.7 215.2L654.8 215.2L656.5 221.7L658.5 210.6L659.9 210.6L661.6 201.6L663.3 206.4L664.7 210.6L666.2 197.0L667.6 178.2L668.9 173.6L670.1 173.6L671.5 179.0L673.0 158.5L674.4 168.8L676.1 169.6L677.8 176.5L680.4 192.7L681.8 187.6L683.3 187.6L685.0 169.3L686.4 182.5L688.1 197.8L689.3 187.6L690.6 205.5L692.0 192.7L693.2 191.8L695.4 177.3L697.1 187.6L698.3 187.6L699.7 182.5L701.4 201.6L703.1 210.6L704.8 210.6L706.0 215.2L707.7 210.6L708.9 215.2L710.3 210.6L712.0 215.2L713.2 206.0L714.5 220.0L716.2 215.2L718.0 206.0L719.1 207.2L720.0 178.2L718.8 201.6L720.5 176.5L721.9 187.2L723.1 178.2L726.0 178.2L727.3 193.6L729.0 176.5L730.7 191.8L733.0 182.5L735.0 192.7L736.7 178.2L737.9 173.1L739.6 187.6L741.8 180.7L744.7 173.1L746.4 173.6L747.8 182.5L749.5 178.2L752.1 191.8L754.3 184.2L756.4 183.3L758.6 192.7L760.1 187.6L761.5 162.8L762.8 173.6L765.7 155.1L767.4 159.9L770.0 159.9L771.7 168.8L773.4 168.8L776.3 183.3L777.7 160.3L779.4 115.0L781.1 115.0L782.8 159.4L783.7 144.9L786.2 159.9L787.9 155.1L789.6 145.7L791.4 156.0L792.7 124.4L793.9 132.9L795.6 155.1L797.3 163.7L799.0 165.4L800.7 173.1L801.9 184.2L803.3 160.3L805.0 139.8L806.7 155.1L808.8 128.7L810.1 144.9L811.3 134.6L813.6 155.1L816.1 131.2L817.5 141.5L819.5 128.7L822.1 128.7L823.3 132.9L825.2 104.8L827.2 114.2L828.4 127.0L829.8 109.9L831.1 136.4L834.0 92.0L835.4 118.4L837.1 96.2L838.7 121.0L840.0 109.9L841.4 126.1L843.1 109.9L844.3 114.2L846.0 136.4L846.9 131.2L848.6 150.0L850.3 116.7L852.0 132.9L853.2 150.9L854.5 137.2L855.9 167.1L857.6 155.1L860.0 155.1L860.0 155.1L860.5 155.1L863.4 136.4L865.1 163.7L866.5 145.7L867.7 145.7L869.4 119.3L871.1 159.4L873.6 118.4L875.3 123.5L877.1 132.1L878.4 132.9L880.1 155.1L884.4 131.2L886.1 154.3L887.3 138.1L888.7 159.4L890.0 146.6L892.9 146.3L894.3 159.4L896.0 128.7L898.6 150.0L901.0 142.3L902.3 145.7L904.0 141.5L905.7 144.9L907.4 159.4L909.2 168.8L910.5 153.4L911.7 167.9L913.8 142.3L915.1 163.7L916.8 155.1L918.0 155.1L919.9 173.6L921.1 173.6L922.5 164.5L923.7 178.2L927.1 178.2L928.8 165.4L930.2 163.7L932.7 192.7L935.6 160.3L937.3 191.8L940.2 191.8L941.9 183.3L943.3 182.5L944.7 161.1L947.1 177.3L948.9 178.2L950.7 187.6L951.8 169.6L953.6 186.7L954.7 186.7L956.5 165.4L959.0 192.7L960.7 187.6L964.1 201.6L967.2 183.3L969.8 167.9L972.3 199.5L974.0 183.3L975.4 201.6L976.6 192.7L978.3 192.7L980.0 210.6L981.7 197.0L983.1 197.0L984.6 206.4L987.4 197.0L989.1 201.6L992.0 201.6" stroke="#0000ff" stroke-width="1.0" fill="none" stroke-linejoin="round"/>
<path d="M61.4 360.4L62.9 360.0L64.4 358.9L65.9 356.6L67.3 354.5L68.8 355.9L70.3 356.9L71.8 357.6L73.3 356.6L74.7 356.1L76.2 356.2L77.7 355.4L79.2 355.2L80.7 354.6L82.1 353.8L83.6 354.2L85.1 355.6L86.6 353.9L88.1 352.0L89.5 349.4L91.0 350.0L92.5 352.2L94.0 354.7L95.5 352.8L96.9 350.9L98.4 349.9L99.9 349.3L101.4 348.5L102.9 347.7L104.3 348.4L105.8 347.7L107.3 348.0L108.8 347.4L110.3 347.1L111.7 346.1L113.2 345.6L114.7 346.5L116.2 345.9L117.7 347.0L119.1 347.4L120.6 347.7L122.1 346.7L123.6 345.2L125.1 346.3L126.5 344.8L128.0 344.1L129.5 346.4L131.0 344.6L132.5 343.9L133.9 342.9L135.4 344.2L136.9 344.9L138.4 345.7L139.9 345.5L141.3 346.3L142.8 346.2L144.3 346.5L145.8 346.2L147.3 345.9L148.7 345.3L150.2 345.6L151.7 345.2L153.2 345.1L154.7 344.0L156.1 345.1L157.6 345.8L159.1 345.5L160.6 345.8L162.1 350.1L163.5 351.6L165.0 353.1L166.5 354.1L168.0 355.0L169.5 354.8L170.9 354.0L172.4 353.6L173.9 353.5L175.4 353.3L176.9 351.8L178.3 350.9L179.8 352.1L181.3 350.3L182.8 349.2L184.3 349.6L185.7 349.8L187.2 349.4L188.7 345.1L190.2 341.5L191.7 342.0L193.1 343.8L194.6 344.9L196.1 345.3L197.6 345.2L199.1 344.1L200.5 343.6L202.0 342.4L203.5 338.8L205.0 340.7L206.5 342.6L207.9 345.0L209.4 346.3L210.9 348.7L212.4 350.8L213.9 350.8L215.3 350.7L216.8 351.3L218.3 351.9L219.8 352.2L221.3 354.9L222.7 357.6L224.2 362.3L225.7 363.8L227.2 364.7L228.7 364.9L230.1 366.2L231.6 367.4L233.1 368.4L234.6 369.2L236.1 368.0L237.5 366.1L239.0 370.4L240.5 372.6L242.0 371.2L243.5 370.4L244.9 370.3L246.4 371.4L247.9 370.3L249.4 370.0L250.9 370.4L252.3 371.8L253.8 371.2L255.3 369.0L256.8 370.0L258.3 371.9L259.7 372.1L261.2 372.3L262.7 373.1L264.2 373.9L265.7 375.4L267.1 376.3L268.6 377.3L270.1 378.6L271.6 380.0L273.1 380.5L274.5 380.4L276.0 380.3L277.5 379.8L279.0 380.9L280.5 381.8L281.9 382.3L283.4 382.9L284.9 383.4L286.4 384.5L287.9 384.6L289.3 385.4L290.8 384.8L292.3 384.2L293.8 383.4L295.3 384.3L296.7 384.1L298.2 384.0L299.7 385.1L301.2 385.1L302.7 388.4L304.1 388.9L305.6 388.3L307.1 387.6L308.6 387.3L310.1 390.0L311.5 391.5L313.0 393.8L314.5 393.0L316.0 391.5L317.5 393.2L318.9 393.6L320.4 392.0L321.9 391.5L323.4 392.7L324.9 393.2L326.3 393.5L327.8 393.9L329.3 392.6L330.8 391.3L332.3 391.5L333.7 392.1L335.2 391.9L336.7 392.9L338.2 392.8L339.7 392.5L341.1 391.6L342.6 391.3L344.1 390.6L345.6 390.1L347.1 391.2L348.5 391.9L350.0 391.9L351.5 391.9L353.0 391.4L354.5 391.2L355.9 391.6L357.4 391.7L358.9 391.2L360.4 390.5L361.9 390.5L363.3 391.3L364.8 391.6L366.3 391.4L367.8 391.9L369.3 391.3L370.7 391.8L372.2 392.6L373.7 392.4L375.2 392.0L376.7 392.1L378.1 391.5L379.6 392.1L381.1 391.8L382.6 392.0L384.1 391.7L385.5 390.3L387.0 390.8L388.5 390.3L390.0 390.2L391.5 390.3L392.9 390.6L394.4 390.6L395.9 390.6L397.4 389.7L398.9 389.9L400.3 388.9L401.8 389.2L403.3 388.9L404.8 388.1L406.3 387.9L407.7 387.4L409.2 387.1L410.7 386.0L412.2 385.4L413.7 384.9L415.1 385.2L416.6 384.5L418.1 383.7L419.6 383.4L421.1 382.9L422.5 382.6L424.0 382.0L425.5 381.6L427.0 380.9L428.5 380.7L429.9 381.0L431.4 380.3L432.9 379.7L434.4 379.4L435.9 379.4L437.3 379.5L438.8 379.1L440.3 379.4L441.8 379.3L443.3 379.0L444.7 378.9L446.2 378.8L447.7 378.8L449.2 379.4L450.7 378.3L452.1 378.5L453.6 377.7L455.1 377.0L456.6 376.7L458.1 376.8L459.5 376.2L461.0 375.9L462.5 375.5L464.0 375.2L465.5 375.1L466.9 374.2L468.4 373.6L469.9 373.1L471.4 372.8L472.9 372.4L474.3 372.8L475.8 371.9L477.3 371.0L478.8 370.8L480.3 369.7L481.7 370.6L483.2 370.5L484.7 369.4" stroke="#ff0000" stroke-width="1.0" fill="none" stroke-linejoin="round"/>
<path d="M566.8 314.6H568.5M571.6 314.6H579.6M581.3 314.6H591.6M593.6 314.6H597.6M618.6 314.6H624.0M630.5 314.6H634.6M649.6 314.6H662.5M664.5 314.6H671.5M688.1 314.6H693.5M568.5 323.2H572.8M578.4 323.2H582.7M590.4 323.2H594.7M596.4 323.2H598.9M623.2 323.2H631.7M634.3 323.2H637.7M661.3 323.2H665.9M680.4 323.2H687.6M698.3 323.2H700.9M597.6 331.8H619.8M633.1 331.8H636.0M646.2 331.8H650.5M667.2 331.8H684.7M686.4 331.8H689.3M695.2 331.8H699.7M639.1 306.0H647.6M692.3 306.0H696.6M636.3 340.4H640.6M642.0 349.0H644.5M700.0 297.4H703.9M702.2 306.0H712.8M760.1 306.0H763.2M776.3 306.0H779.4M764.4 314.6H767.8M773.1 314.6H776.3M778.0 314.6H786.6M787.9 314.6H795.6M797.0 314.6H810.5M813.0 314.6H816.1M832.3 314.6H835.4M838.0 314.6H845.7M774.6 323.2H778.0M811.5 323.2H814.7M817.0 323.2H828.1M833.7 323.2H836.9M843.9 323.2H850.3M857.1 323.2H860.0M706.8 331.8H709.9M761.5 331.8H774.8M785.0 331.8H788.3M795.6 331.8H798.7M805.9 331.8H813.6M814.7 331.8H819.0M823.3 331.8H833.7M835.2 331.8H840.0M845.1 331.8H860.0M718.8 340.4H725.1M780.8 340.4H784.0M786.6 340.4H789.6M793.9 340.4H797.0M720.1 349.0H731.1M729.0 374.9H732.1M738.9 374.9H742.7M733.3 383.5H736.7M740.6 383.5H749.9M730.2 392.1H733.8M735.0 392.1H741.0M742.2 392.1H752.6M757.2 392.1H761.8M715.7 400.7H720.8M731.9 400.7H735.0M751.2 400.7H757.2M711.1 409.3H717.6M755.2 409.3H758.9M863.1 314.6H866.5M868.2 314.6H877.9M879.6 314.6H891.2M894.3 314.6H931.4M934.3 314.6H943.0M946.2 314.6H953.2M954.9 314.6H957.8M860.0 323.2H860.8M861.9 323.2H865.1M876.4 323.2H881.5M887.0 323.2H893.3M898.6 323.2H901.8M904.5 323.2H907.8M912.1 323.2H915.1M919.4 323.2H925.4M930.0 323.2H936.0M941.3 323.2H947.9M951.8 323.2H961.2M962.1 323.2H966.0M977.1 323.2H983.1M860.0 331.8H863.4M865.3 331.8H869.4M891.2 331.8H896.0M959.0 331.8H971.5M974.0 331.8H978.7M981.4 331.8H986.0M987.2 331.8H993.7M969.3 340.4H975.8M984.3 340.4H989.1" stroke="#ff0000" stroke-width="3.3" fill="none"/>
<path d="M188.5 628.3L191.1 626.1L194.5 625.4L198.4 624.5L200.5 620.6L203.9 611.2L207.3 603.5L210.7 594.1L215.9 582.2L221.0 573.6L224.7 566.3L227.3 560.0L228.3 559.1L229.5 563.9L232.1 554.9L235.5 542.1L238.4 534.4L238.9 552.3L239.8 603.5L241.5 597.6L243.2 596.7L244.5 601.0L246.1 553.2L246.9 574.5L247.8 591.6L249.2 595.8L250.5 596.7L251.7 586.5L253.4 598.7L256.0 591.6L257.7 592.8L259.4 577.1L260.6 588.2L262.3 498.5L263.2 530.1L263.7 584.7L264.9 581.8L266.6 590.7L268.5 588.2L269.3 583.9L271.0 589.0L272.7 593.3L273.9 583.0L275.6 581.3L277.3 575.4L278.5 579.6L279.9 533.5L280.7 552.3L281.6 578.8L283.0 577.6L285.0 580.5L287.6 577.6L289.3 578.4L290.7 584.7L291.8 593.3L293.6 583.0L295.3 581.3L297.5 566.0L299.5 587.3L301.2 576.2L302.6 559.1L304.1 518.2L305.2 497.7L306.4 564.3L308.1 518.2L309.4 497.7L311.1 500.2L312.8 505.3L314.4 514.7L315.8 516.4L316.9 552.3L318.7 541.2L320.0 540.0L321.7 525.0L324.3 509.6L325.7 497.7L327.2 509.6L329.4 514.7L330.8 523.3L331.6 547.2L333.2 525.0L334.5 521.2L336.2 526.7L338.0 542.1L339.1 559.1L340.0 564.3L341.7 566.8L342.2 565.1L343.6 581.8L345.1 577.6L346.1 577.1L347.7 562.5L349.0 572.8L350.4 577.9L352.4 577.6L353.8 580.5L355.3 589.0L357.6 589.0L359.3 582.7L361.0 586.5L362.3 589.0L364.1 587.3L365.8 586.1L367.0 581.3L368.7 594.1L370.0 577.1L371.2 588.2L372.9 596.7L374.6 597.6L377.5 604.4L378.9 598.4L380.6 598.1L382.0 601.0L383.2 607.8L384.9 611.2L387.4 617.5L390.0 620.1L393.4 621.1L396.8 623.2L400.3 625.7L403.7 628.3" stroke="#ff0000" stroke-width="1.0" fill="none" stroke-linejoin="round"/>
<path d="M61.5 628.5L188.8 628.5" stroke="#d41010" stroke-width="1.0" fill="none" stroke-linejoin="round"/>
<path d="M403.4 628.5L486.5 628.5" stroke="#d41010" stroke-width="1.0" fill="none" stroke-linejoin="round"/>
<path d="M568.4 497.9L571.6 494.1L575.3 494.1L577.0 496.4L579.6 493.6L581.7 490.9L584.5 496.4L587.7 497.5L590.3 500.7L592.0 505.4L595.2 509.3L598.4 509.7L600.1 512.3L602.3 509.3L604.8 512.3L608.1 519.3L611.7 526.8L615.6 530.1L624.1 530.1L628.4 538.6L632.7 545.1L635.9 546.1L638.7 548.3L641.7 548.3L645.5 554.7L648.8 557.9L651.5 558.5L653.7 557.9L656.3 562.8L659.5 568.6L661.6 572.9L664.4 576.1L665.5 573.5L667.0 576.1L668.7 576.1L671.3 570.3L673.0 572.5L675.5 569.7L677.7 567.5L680.5 567.5L682.4 570.3L684.7 570.3L686.2 572.5L687.7 568.2L690.5 565.0L693.7 561.1L695.2 563.3L697.0 561.1L698.7 563.3L700.2 561.1L705.5 560.7L707.7 558.3L712.0 557.9L714.5 555.1L717.3 555.1L719.4 558.3L722.2 555.1L728.0 555.1L731.2 551.9L733.4 551.9L735.1 557.9L737.7 557.9L740.4 548.9L743.0 552.5L745.2 553.6L747.3 550.0L749.0 548.3L751.6 551.5L754.2 553.6L755.4 551.9L758.0 555.8L760.8 554.7L763.4 562.2L765.5 557.9L767.2 562.8L769.8 566.5L771.5 564.3L773.6 569.7L776.2 570.3L779.4 578.3L780.9 576.1L781.7 576.1L785.6 580.4L789.4 582.5L790.9 588.5L793.7 584.7L796.3 591.1L799.5 596.5L801.6 594.3L804.8 601.4L809.1 607.2L812.3 613.2L813.4 610.0L815.1 615.7L817.3 613.2L820.9 616.8L824.6 620.7L826.3 619.0L827.8 622.2L829.5 612.5L831.0 621.1L833.8 628.0L837.0 622.2L841.3 622.2L843.8 625.4L846.0 622.2L850.9 622.2L852.4 619.0L854.5 622.2L859.5 621.7L863.8 616.2L866.5 621.7L869.5 616.2L871.3 619.4L873.4 616.2L875.5 619.0L883.0 619.0L884.8 616.2L888.4 615.7L889.9 613.2L892.7 612.5L897.0 606.7L900.2 601.8L901.7 600.3L903.4 603.3L905.5 600.7L909.4 595.0L912.4 591.8L914.1 594.3L917.3 588.5L921.0 588.3L924.8 583.6L929.1 579.3L934.4 571.8L938.7 566.5L941.5 563.3L945.2 559.0L947.3 552.1L949.0 554.3L952.7 550.4L955.9 547.2L958.7 542.5L963.4 537.6L967.2 533.3L969.2 536.5L974.1 536.5L976.2 533.7L980.1 533.3L982.6 527.9L985.9 527.3L988.0 524.7L990.1 524.7L991.9 527.5" stroke="#ff0000" stroke-width="1.0" fill="none" stroke-linejoin="round"/>
<path d="M204.4 830.5L205.6 825.2L208.2 822.6L210.7 822.1L227.0 810.7L229.5 809.8L232.1 807.2L234.6 804.7L235.5 807.2L236.9 802.1L238.1 803.0L239.8 813.2L241.5 812.4L244.0 805.5L246.3 800.1L247.4 803.0L248.8 812.4L250.5 801.3L251.7 806.4L253.4 810.7L255.1 809.8L257.7 809.8L259.4 803.0L260.8 802.1L262.5 788.1L263.7 802.1L264.9 805.5L266.6 808.9L267.9 803.0L269.3 802.1L271.0 792.7L272.2 809.8L273.9 790.2L275.3 803.8L276.8 791.4L278.2 792.7L279.9 791.0L281.6 801.3L283.3 801.3L285.9 804.7L288.4 798.7L290.1 793.6L291.5 808.1L293.6 792.7L294.9 803.0L296.6 802.1L297.8 786.7L299.5 805.5L301.2 788.5L302.9 781.6L304.7 779.9L306.4 784.2L308.1 773.9L309.4 767.1L311.1 773.1L312.3 769.7L314.0 778.2L315.2 776.5L316.6 790.2L318.7 786.7L320.0 785.9L322.1 779.6L324.3 776.5L325.7 771.9L327.7 777.4L329.1 780.8L330.3 790.2L331.6 791.9L333.2 786.7L334.5 784.2L335.7 789.3L337.1 791.9L338.8 799.6L339.1 799.6L340.5 798.7L342.2 802.1L343.6 806.4L346.5 806.4L347.8 804.3L349.9 807.2L352.4 809.3L355.3 814.1L357.6 814.1L359.6 812.9L361.8 814.9L364.7 815.8L366.1 815.3L367.8 817.1L370.0 815.3L371.7 817.8L374.6 820.9L377.2 822.6L380.6 822.6L383.2 824.0L385.7 826.9L387.4 830.3" stroke="#ff0000" stroke-width="1.0" fill="none" stroke-linejoin="round"/>
<path d="M61.5 830.5L204.7 830.5" stroke="#d41010" stroke-width="1.0" fill="none" stroke-linejoin="round"/>
<path d="M387.1 830.5L486.5 830.5" stroke="#d41010" stroke-width="1.0" fill="none" stroke-linejoin="round"/>
<path d="M568.2 830.5L993.5 830.5" stroke="#d41010" stroke-width="1.0" fill="none" stroke-linejoin="round"/>
</svg>
</body></html>
